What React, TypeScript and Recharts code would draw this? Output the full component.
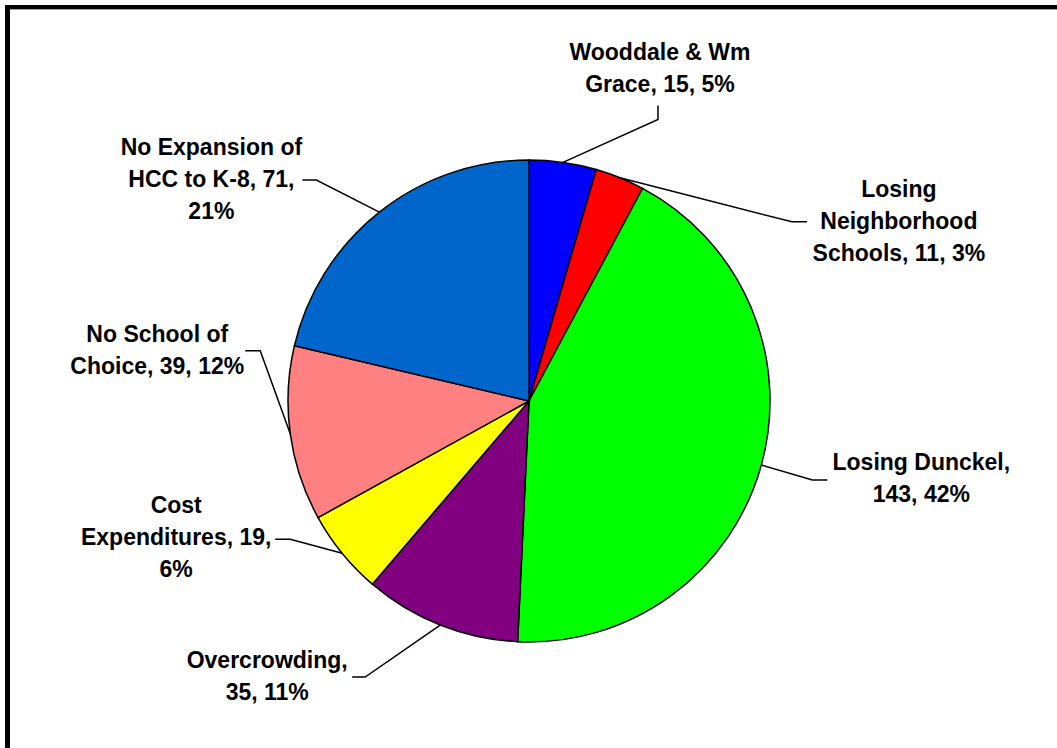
import { PieChart, Pie, Cell } from "recharts";

// slices, clockwise from 12 o'clock
const categories = [
  "Wooddale & Wm Grace",
  "Losing Neighborhood Schools",
  "Losing Dunckel",
  "Overcrowding",
  "Cost Expenditures",
  "No School of Choice",
  "No Expansion of HCC to K-8",
];
const counts = [15, 11, 143, 35, 19, 39, 71];
const percents = [5, 3, 42, 11, 6, 12, 21];
const colors = ["#0000FF", "#FF0000", "#00FF00", "#800080", "#FFFF00", "#FF8080", "#0066CC"];

// how each data label wraps, as in the original chart
const labelLines = [
  ["Wooddale & Wm", "Grace, 15, 5%"],
  ["Losing", "Neighborhood", "Schools, 11, 3%"],
  ["Losing Dunckel,", "143, 42%"],
  ["Overcrowding,", "35, 11%"],
  ["Cost", "Expenditures, 19,", "6%"],
  ["No School of", "Choice, 39, 12%"],
  ["No Expansion of", "HCC to K-8, 71,", "21%"],
];

// label placement relative to the slice's outer edge point at its mid angle:
// leader elbow, leader end, text centre x / first baseline y
const labelLayout = [
  { p1: [95, -43], p2: [95, -57], t: [97, -102] },
  { p1: [172, 44], p2: [187, 44], t: [279, 19] },
  { p1: [51, 15], p2: [66, 15], t: [160, 5] },
  { p1: [-75, 52], p2: [-88, 52], t: [-173, 43] },
  { p1: [-52, -14], p2: [-67, -14], t: [-166, -40] },
  { p1: [-30, -83], p2: [-45, -83], t: [-133, -92] },
  { p1: [-63, -32], p2: [-77, -32], t: [-168, -57] },
];

const data = categories.map((name, i) => ({
  name,
  value: counts[i],
  percent: percents[i],
}));

const RAD = Math.PI / 180;

function SliceLabel(props: any) {
  const { cx, cy, midAngle, outerRadius, index } = props;
  const ex = cx + outerRadius * Math.cos(-midAngle * RAD);
  const ey = cy + outerRadius * Math.sin(-midAngle * RAD);
  const lay = labelLayout[index];
  const pts = [
    [ex, ey],
    [ex + lay.p1[0], ey + lay.p1[1]],
    [ex + lay.p2[0], ey + lay.p2[1]],
  ];
  const tx = ex + lay.t[0];
  const ty = ey + lay.t[1];
  return (
    <g>
      <polyline
        points={pts.map((p) => p.join(",")).join(" ")}
        fill="none"
        stroke="#000"
        strokeWidth={1.5}
      />
      <text
        x={tx}
        y={ty}
        textAnchor="middle"
        fill="#000"
        fontFamily="'Liberation Sans', Arial, sans-serif"
        fontWeight="bold"
        fontSize={23}
      >
        {labelLines[index].map((line, j) => (
          <tspan key={j} x={tx} dy={j === 0 ? 0 : 32}>
            {line}
          </tspan>
        ))}
      </text>
    </g>
  );
}

export default function App() {
  return (
    <div
      style={{
        position: "absolute",
        left: 0,
        top: 0,
        width: 1057,
        height: 748,
        overflow: "hidden",
        background: "#fff",
      }}
    >
      <div
        style={{
          position: "absolute",
          left: 5,
          top: 5,
          width: 1200,
          height: 900,
          borderTop: "4px solid #000",
          borderLeft: "5px solid #000",
        }}
      />
      <div
        style={{
          position: "absolute",
          left: 10,
          top: 9,
          width: 1200,
          borderTop: "1px solid #a0a0a0",
        }}
      />
      <div style={{ position: "absolute", left: 0, top: 0 }}>
        <PieChart
          width={1057}
          height={748}
          margin={{ top: 0, right: 0, bottom: 0, left: 0 }}
        >
          <Pie
            data={data}
            dataKey="value"
            nameKey="name"
            cx={529}
            cy={401}
            outerRadius={241}
            startAngle={90}
            endAngle={-270}
            stroke="#000"
            strokeWidth={1.5}
            label={SliceLabel}
            labelLine={false}
            isAnimationActive={false}
          >
            {data.map((d, i) => (
              <Cell key={d.name} fill={colors[i]} />
            ))}
          </Pie>
        </PieChart>
      </div>
    </div>
  );
}
